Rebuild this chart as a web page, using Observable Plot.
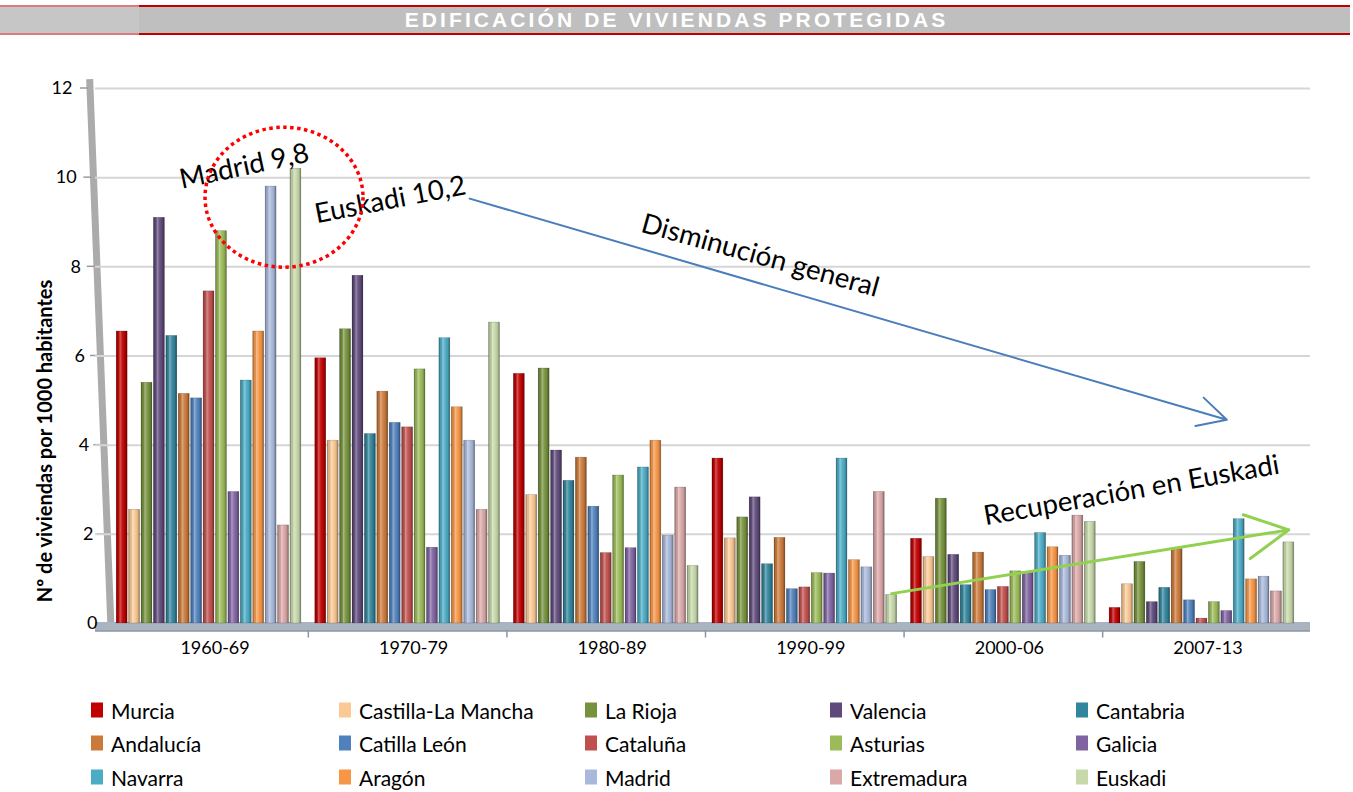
<!DOCTYPE html>
<html><head><meta charset="utf-8">
<script src="https://cdn.jsdelivr.net/npm/d3@7"></script>
<script src="https://cdn.jsdelivr.net/npm/@observablehq/plot@0.6"></script>
<style>
html,body{margin:0;padding:0;background:#fff;}
body{width:1353px;height:792px;overflow:hidden;position:relative;font-family:Lato,"Noto Sans",sans-serif;}
#tleft{position:absolute;left:0;top:5px;width:139px;height:26px;background:#c6c6c6;border-top:2px solid #e07a7a;border-bottom:2px solid #e07a7a;}
#tmain{position:absolute;left:139px;top:5px;width:1211px;height:26px;background:#bfbfbf;border-top:2px solid #c00000;border-bottom:2px solid #c00000;}
#ttext{position:absolute;left:0;top:5px;width:1353px;text-align:center;color:#fff;font:bold 21px "Liberation Sans",Arial,sans-serif;letter-spacing:3.1px;line-height:30px;}
#chart{position:absolute;left:0;top:40px;}
#legend{position:absolute;left:0;top:0;width:1353px;height:792px;pointer-events:none;}
.li{position:absolute;display:flex;align-items:center;font-size:21px;color:#000;white-space:nowrap;transform:translateY(-50%);}
.sw{width:12px;height:15px;margin-right:8px;display:inline-block;}
</style></head>
<body>
<div id="tleft"></div><div id="tmain"></div>
<div id="ttext">EDIFICACIÓN DE VIVIENDAS PROTEGIDAS</div>
<div id="chart"></div>
<div id="legend"></div>
<script>
// ---- data ----
const periods = ["1960-69", "1970-79", "1980-89", "1990-99", "2000-06", "2007-13"];
const regions = ["Murcia", "Castilla-La Mancha", "La Rioja", "Valencia", "Cantabria",
  "Andalucía", "Catilla León", "Cataluña", "Asturias", "Galicia",
  "Navarra", "Aragón", "Madrid", "Extremadura", "Euskadi"];
const colors = ["#C00000", "#FBC994", "#76923C", "#604A7B", "#31859C",
  "#CC7A3A", "#4F81BD", "#C0504D", "#9BBB59", "#8064A2",
  "#4BACC6", "#F79646", "#A9B9DB", "#DBA8A8", "#C7D9AA"];
const murcia        = [6.55, 5.95, 5.60, 3.70, 1.90, 0.35];
const castillaLM    = [2.55, 4.10, 2.88, 1.91, 1.49, 0.88];
const laRioja       = [5.40, 6.60, 5.72, 2.38, 2.80, 1.38];
const valencia      = [9.10, 7.80, 3.88, 2.83, 1.54, 0.48];
const cantabria     = [6.45, 4.25, 3.20, 1.33, 0.86, 0.80];
const andalucia     = [5.15, 5.20, 3.72, 1.92, 1.59, 1.67];
const castillaLeon  = [5.05, 4.50, 2.62, 0.77, 0.75, 0.52];
const cataluna      = [7.45, 4.40, 1.58, 0.81, 0.82, 0.11];
const asturias      = [8.80, 5.70, 3.32, 1.13, 1.17, 0.48];
const galicia       = [2.95, 1.70, 1.69, 1.12, 1.15, 0.28];
const navarra       = [5.45, 6.40, 3.50, 3.70, 2.03, 2.34];
const aragon        = [6.55, 4.85, 4.10, 1.42, 1.71, 0.99];
const madrid        = [9.80, 4.10, 1.97, 1.26, 1.52, 1.05];
const extremadura   = [2.20, 2.55, 3.05, 2.95, 2.42, 0.72];
const euskadi       = [10.20, 6.75, 1.29, 0.64, 2.28, 1.82];
const series = [murcia, castillaLM, laRioja, valencia, cantabria, andalucia, castillaLeon,
  cataluna, asturias, galicia, navarra, aragon, madrid, extremadura, euskadi];
const yTicks = [0, 2, 4, 6, 8, 10, 12];
const yTitle = "Nº de viviendas por 1000 habitantes";
const annotations = [
  {text: "Madrid 9,8", period: "1960-69", region: "Navarra", y: 10.25, rotate: -12, dx: -2},
  {text: "Euskadi 10,2", period: "1970-79", region: "Catilla León", y: 9.5, rotate: -11, dx: -5},
  {text: "Disminución general", period: "1990-99", region: "Valencia", y: 8.25, rotate: 15.5, dx: 5},
  {text: "Recuperación en Euskadi", period: "2007-13", region: "Castilla-La Mancha", y: 2.98, rotate: -10, dx: 4}
];

// ---- build table ----
const key = (p, r) => p + "|" + r;
const keys = [];
periods.forEach((p, i) => {
  regions.forEach(r => keys.push(key(p, r)));
  if (i < periods.length - 1) keys.push("gap" + i);
});
const gapKeys = keys.filter(k => k.startsWith("gap"));
const table = [];
periods.forEach((p, pi) => regions.forEach((r, ri) =>
  table.push({key: key(p, r), period: p, region: r, value: series[ri][pi]})));

const font = "Lato, 'Noto Sans', sans-serif";
const labelRight = v => 97 - 25 * v / 12;  // slanted 3D wall

const plot = Plot.plot({
  width: 1353, height: 650,
  marginTop: 48, marginBottom: 67, marginLeft: 95, marginRight: 43,
  x: {domain: keys, range: [110, 1300], paddingInner: 0.12, paddingOuter: 0.5, axis: null},
  y: {domain: [0, 12], axis: null},
  color: {domain: regions, range: colors},
  style: {fontFamily: font, overflow: "visible", background: "transparent"},
  marks: [
    Plot.ruleY(yTicks.filter(t => t > 0), {stroke: "#d6d6d6", strokeWidth: 2}),
    Plot.ruleY([0], {stroke: "#aab3c0", strokeWidth: 9, dy: 3}),
    Plot.ruleY([0], {stroke: "#8c96a3", strokeWidth: 1.5, dy: 7.5}),
    Plot.ruleX(gapKeys, {y1: 0, y2: -0.17, dy: 7, stroke: "#8c96a3", strokeWidth: 1.5}),
    Plot.barY(table, {x: "key", y: "value", fill: "region"}),
    Plot.barY(table, {x: "key", y: "value", fill: "url(#shine)", stroke: "#000", strokeOpacity: 0.25, strokeWidth: 0.6}),
    ...yTicks.map(t => Plot.text([t], {frameAnchor: "left", y: t, text: d => String(d),
      textAnchor: "end", dx: labelRight(t) - 95, fontSize: 18, fill: "#000"})),
    Plot.text([yTitle], {frameAnchor: "left", text: d => d, rotate: -90, textAnchor: "middle", dx: -50, dy: 85,
      fontSize: 20, fontWeight: "bold", fill: "#000"}),
    Plot.text(periods, {x: p => key(p, regions[7]), y: 0, text: d => d, dy: 25, dx: 6, fontSize: 18, fill: "#000"}),
    Plot.arrow([0], {x1: () => key("1970-79", "Madrid"), y1: 9.53, x2: () => key("2007-13", "Galicia"), y2: 4.57,
      stroke: "#4A7EBB", strokeWidth: 2, headLength: 24, headAngle: 55}),
    Plot.arrow([0], {x1: () => key("1990-99", "Euskadi"), y1: 0.67, x2: () => key("2007-13", "Euskadi"), y2: 2.1,
      stroke: "#92D050", strokeWidth: 3, headLength: 24, headAngle: 55}),
    ...annotations.map(a => Plot.text([a], {x: d => key(d.period, d.region), y: "y", text: "text",
      rotate: a.rotate, dx: a.dx, fontSize: 27.5, fill: "#000"}))
  ]
});
document.getElementById("chart").appendChild(plot);

// gradient for cylinder shading + decorations
const svg = d3.select(plot);
const xs = plot.scale("x"), ys = plot.scale("y");
const defs = svg.insert("defs", ":first-child");
const g = defs.append("linearGradient").attr("id", "shine").attr("x1", 0).attr("x2", 1).attr("y1", 0).attr("y2", 0);
[[0, "#000", 0.35], [0.15, "#000", 0.08], [0.35, "#fff", 0.35], [0.55, "#fff", 0.08], [0.8, "#000", 0.08], [1, "#000", 0.4]]
  .forEach(([o, c, a]) => g.append("stop").attr("offset", o).attr("stop-color", c).attr("stop-opacity", a));
// wall
const wx = v => labelRight(v) + 13 + 5 * v / 12;
const wall = svg.insert("g", "defs + *");
wall.append("line").attr("x1", wx(12.2)).attr("y1", ys.apply(12.2)).attr("x2", wx(0) + 1).attr("y2", ys.apply(0) + 5)
  .attr("stroke", "#ababab").attr("stroke-width", 7);
yTicks.forEach(t => wall.append("line").attr("x1", wx(t) - 10).attr("x2", wx(t) - 2)
  .attr("y1", ys.apply(t)).attr("y2", ys.apply(t)).attr("stroke", "#9a9a9a").attr("stroke-width", 1.5));
// dotted highlight ellipse around the 1960-69 peaks
const cx = xs.apply(key("1960-69", "Extremadura")) + xs.bandwidth / 2;
svg.append("ellipse").attr("cx", cx + 1).attr("cy", ys.apply(9.55)).attr("rx", 79).attr("ry", 70)
  .attr("fill", "none").attr("stroke", "#ff0000").attr("stroke-width", 3.5).attr("stroke-dasharray", "3.5 3.5");

// legend
const lg = document.getElementById("legend");
const colX = [91, 339, 585, 830, 1076], rowY = [710, 743, 777];
regions.forEach((r, i) => {
  const d = document.createElement("div");
  d.className = "li";
  d.style.left = colX[i % 5] + "px";
  d.style.top = rowY[Math.floor(i / 5)] + "px";
  d.innerHTML = `<span class="sw" style="background:${colors[i]}"></span>${r}`;
  lg.appendChild(d);
});
</script>
</body></html>
